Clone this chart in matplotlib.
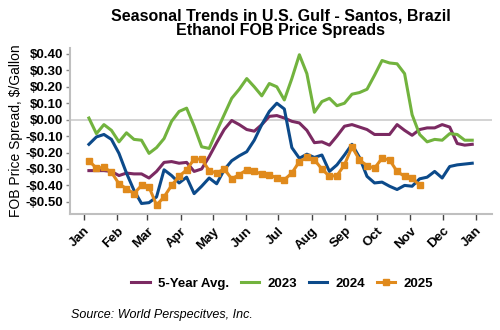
import matplotlib
matplotlib.use("Agg")
import matplotlib.pyplot as plt
import numpy as np

months = ["Jan", "Feb", "Mar", "Apr", "May", "Jun", "Jul", "Aug", "Sep", "Oct", "Nov", "Dec", "Jan"]
month_start_days = [0, 31, 59, 90, 120, 151, 181, 212, 243, 273, 304, 334, 365]

first_day = 4.6
week_days = 7.0

avg5 = [-0.31, -0.31, -0.31, -0.315, -0.34, -0.325, -0.33, -0.33, -0.355, -0.315, -0.26, -0.255, -0.265,
        -0.26, -0.315, -0.30, -0.225, -0.14, -0.06, -0.005, -0.03, -0.06, -0.07, -0.03, 0.02, 0.025,
        0.01, -0.01, -0.02, -0.065, -0.14, -0.135, -0.155, -0.10, -0.04, -0.03, -0.045, -0.06, -0.09,
        -0.09, -0.09, -0.03, -0.065, -0.095, -0.06, -0.05, -0.05, -0.03, -0.045, -0.145, -0.155, -0.15]
y2023 = [0.01, -0.085, -0.03, -0.065, -0.135, -0.08, -0.12, -0.125, -0.205, -0.17, -0.115, -0.01, 0.05,
         0.07, -0.04, -0.165, -0.175, -0.07, 0.03, 0.13, 0.185, 0.25, 0.20, 0.145, 0.22, 0.20,
         0.12, 0.25, 0.395, 0.28, 0.045, 0.11, 0.13, 0.085, 0.10, 0.155, 0.165, 0.185, 0.27,
         0.36, 0.345, 0.34, 0.28, 0.03, -0.09, -0.135, -0.12, -0.125, -0.085, -0.09, -0.125, -0.125]
y2024 = [-0.15, -0.105, -0.09, -0.12, -0.205, -0.325, -0.43, -0.51, -0.505, -0.47, -0.305, -0.34, -0.385,
         -0.35, -0.45, -0.405, -0.355, -0.39, -0.305, -0.25, -0.22, -0.195, -0.125, -0.03, 0.05, 0.10,
         0.065, -0.17, -0.235, -0.21, -0.23, -0.215, -0.315, -0.275, -0.215, -0.15, -0.23, -0.345, -0.385,
         -0.38, -0.405, -0.425, -0.40, -0.405, -0.36, -0.35, -0.315, -0.355, -0.285, -0.275, -0.27, -0.265]
y2025 = [-0.25, -0.295, -0.29, -0.32, -0.39, -0.42, -0.45, -0.40, -0.41, -0.52, -0.47, -0.40, -0.345,
         -0.305, -0.24, -0.24, -0.31, -0.325, -0.30, -0.36, -0.335, -0.305, -0.315, -0.33, -0.335, -0.355,
         -0.365, -0.325, -0.255, -0.23, -0.245, -0.30, -0.345, -0.34, -0.275, -0.165, -0.245, -0.28, -0.295,
         -0.235, -0.245, -0.315, -0.345, -0.355, -0.40]

yticks = [0.40, 0.30, 0.20, 0.10, 0.00, -0.10, -0.20, -0.30, -0.40, -0.50]

c_avg = "#7B2A62"
c_23 = "#72B33E"
c_24 = "#0C4A8A"
c_25 = "#E08A1C"

fig = plt.figure(figsize=(5.0, 3.3), dpi=100)
ax = fig.add_axes([0.14, 0.352, 0.844, 0.503])

def xs(n):
    return first_day + week_days * np.arange(n)

ax.axhline(0, color="#cccccc", lw=1.2, zorder=1)
ax.plot(xs(len(avg5)), avg5, color=c_avg, lw=2.2, label="5-Year Avg.", zorder=3)
ax.plot(xs(len(y2023)), y2023, color=c_23, lw=2.2, label="2023", zorder=3)
ax.plot(xs(len(y2024)), y2024, color=c_24, lw=2.2, label="2024", zorder=3)
ax.plot(xs(len(y2025)), y2025, color=c_25, lw=2.2, marker="s", markersize=5, label="2025", zorder=4)

ax.set_xlim(-13, 380)
ax.set_ylim(-0.573, 0.437)
ax.set_xticks(month_start_days)
ax.set_xticklabels(months, rotation=45, ha="right", rotation_mode="anchor",
                   fontsize=9.5, fontweight="bold", family="Liberation Sans")
ax.set_yticks(yticks)
ax.set_yticklabels([("-$%.2f" % abs(v)) if v < 0 else ("$%.2f" % v) for v in yticks],
                   fontsize=9.5, fontweight="bold", family="Liberation Sans")
ax.tick_params(axis="x", length=4, width=1, color="#444444", pad=4)
ax.tick_params(axis="y", length=3, width=1, color="#888888", pad=2)
for s in ["top", "right"]:
    ax.spines[s].set_visible(False)
for s in ["left", "bottom"]:
    ax.spines[s].set_color("#bfbfbf")
    ax.spines[s].set_linewidth(1.5)

ax.set_ylabel("FOB Price Spread, $/Gallon", fontsize=10, family="Liberation Sans", labelpad=2)

ax.set_title("Seasonal Trends in U.S. Gulf - Santos, Brazil\nEthanol FOB Price Spreads",
             fontsize=11.5, fontweight="bold", family="Liberation Sans", linespacing=0.95, pad=9)

leg = fig.legend(loc="center", bbox_to_anchor=(0.564, 0.14), ncol=4, frameon=False,
                 handlelength=1.4, handletextpad=0.6, columnspacing=0.9,
                 prop={"family": "Liberation Sans", "weight": "bold", "size": 9.5})

fig.text(0.142, 0.035, "Source: World Perspecitves, Inc.", fontsize=9, style="italic",
         family="Liberation Sans")

fig.savefig("out.png", dpi=100)
